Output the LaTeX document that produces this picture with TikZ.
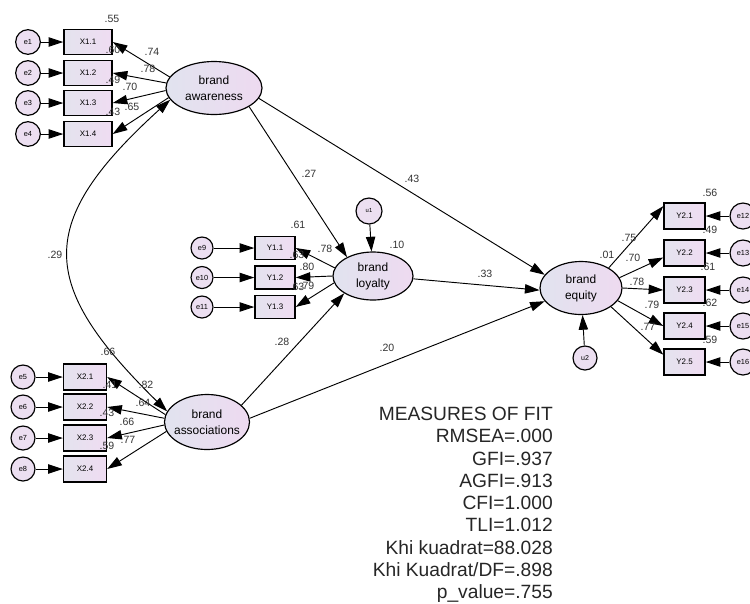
\documentclass[tikz,border=0pt]{standalone}
\usepackage{fontspec}
\setmainfont{Liberation Sans}
\usetikzlibrary{arrows.meta,shapes.geometric}
\definecolor{obsL}{HTML}{E4E3EE}
\definecolor{obsR}{HTML}{EFDCF2}
\definecolor{latL}{HTML}{E1E3EF}
\definecolor{latR}{HTML}{EEDAF0}
\definecolor{errC}{HTML}{ECDFF1}

\begin{document}
\begin{tikzpicture}[x=0.03cm, y=-0.03cm, >={Triangle[length=12.5pt,width=8pt]},
  obs/.style={rectangle, draw, line width=1.2pt, left color=obsL, right color=obsR,
              inner sep=0pt, font=\fontsize{6.8}{8}\selectfont},
  lat/.style={ellipse, draw, line width=1pt, left color=latL, right color=latR,
              inner xsep=-6pt, inner ysep=0pt, align=center, font=\fontsize{10.2}{13.5}\selectfont},
  err/.style={circle, draw, line width=1pt, fill=errC, inner sep=0pt,
              minimum size=0.74cm, font=\fontsize{6.3}{7}\selectfont},
  coef/.style={inner sep=0pt, text=black!80, font=\fontsize{9}{10}\selectfont},
  fitbox/.style={align=right, inner sep=0pt, text=black!85, font=\fontsize{16.4}{19}\selectfont},
  link/.style={->, line width=0.8pt}]
  \useasboundingbox (0,0) rectangle (750,603);
  % latent variables
  \node[lat, minimum width=2.88cm, minimum height=1.59cm] (aw) at (214,88) {brand\\awareness};
  \node[lat, minimum width=2.55cm, minimum height=1.65cm] (as) at (207,422) {brand\\associations};
  \node[lat, minimum width=2.4cm, minimum height=1.44cm] (lo) at (373,276) {brand\\loyalty};
  \node[lat, minimum width=2.46cm, minimum height=1.59cm] (eq) at (581,288) {brand\\equity};
  % brand awareness indicators
  \foreach \i/\y/\a in {1/42/166, 2/73/174, 3/103/183, 4/134/192} {
    \node[err] (e\i) at (28,\y) {e\i};
    \node[obs, minimum width=1.44cm, minimum height=0.75cm] (x1\i) at (88,\y) {X1.\i};
    \draw[link] (e\i) -- (x1\i);
    \draw[link] (aw.\a) -- (x1\i.east);
  }
  % brand associations indicators
  \foreach \i/\n/\y/\a in {1/5/377/170, 2/6/407/175, 3/7/438/184, 4/8/469/193} {
    \node[err, minimum size=0.72cm] (e\n) at (23,\y) {e\n};
    \node[obs, minimum width=1.29cm, minimum height=0.77cm] (x2\i) at (85,\y) {X2.\i};
    \draw[link] (e\n) -- (x2\i);
    \draw[link] (as.\a) -- (x2\i.east);
  }
  % brand loyalty indicators
  \foreach \i/\n/\y/\a in {1/9/248/168, 2/10/277.5/180, 3/11/307/190} {
    \node[err, minimum size=0.66cm] (e\n) at (202,\y) {e\n};
    \node[obs, minimum width=1.2cm, minimum height=0.69cm] (y1\i) at (275,\y) {Y1.\i};
    \draw[link] (e\n) -- (y1\i);
    \draw[link] (lo.\a) -- (y1\i.east);
  }
  % brand equity indicators
  \foreach \i/\n/\y/\a/\b in {1/12/216/36/155, 2/13/253/15/192, 3/14/290/0/180,
                              4/15/326/341/180, 5/16/362/328/161} {
    \node[err, minimum size=0.78cm] (e\n) at (743,\y) {e\n};
    \node[obs, minimum width=1.23cm, minimum height=0.78cm] (y2\i) at (684.5,\y) {Y2.\i};
    \draw[link] (e\n) -- (y2\i);
    \draw[link] (eq.\a) -- (y2\i.\b);
  }
  % disturbances
  \node[err, minimum size=0.78cm, font=\fontsize{5}{6}\selectfont] (u1) at (369,211) {u1};
  \node[err, minimum size=0.72cm, font=\fontsize{6}{7}\selectfont] (u2) at (585,358) {u2};
  \draw[link] (u1) -- (lo);
  \draw[link] (u2) -- (eq);
  % structural paths
  \draw[link] (aw.332) -- (lo.144);
  \draw[link] (aw.347) -- (eq.160);
  \draw[link] (lo.356) -- (eq.183);
  \draw[link] (as.26) -- (lo.211);
  \draw[link] (as.5) -- (eq.200);
  \draw[link, <->] (aw.195) .. controls (34.5,223) and (37.5,284) .. (as.165);
  % estimates
  \foreach \txt/\x/\y [count=\n] in {.55/112/19, .60/113/50, .74/152/52, .78/148/69,
      .49/113/80, .70/130/87, .43/113/112, .65/132/107,
      .66/108/352, .41/110/385, .82/146/385, .64/143/403, .43/107/413, .66/127/422,
      .59/107/446, .77/128/440,
      .61/298/225, .78/325/249, .63/297/255, .80/307/267, .63/297/287, .79/307/286,
      .56/710/193, .49/710/230, .61/708/267, .62/710/303, .59/710/340,
      .75/629/238, .70/633/258, .78/637/282, .79/652/305, .77/648/327,
      .27/309/174, .43/412/179, .33/485/274, .28/282/342, .20/387/348,
      .29/55/255, .10/397/245, .01/607/255}
    \node[coef] (c\n) at (\x,\y) {\txt};
  % fit measures
  \node[fitbox, anchor=north east] (fit) at (553,407) {MEASURES OF FIT\\RMSEA=.000\\GFI=.937\\AGFI=.913\\CFI=1.000\\TLI=1.012\\Khi kuadrat=88.028\\Khi Kuadrat/DF=.898\\p\_value=.755};
\end{tikzpicture}
\end{document}
